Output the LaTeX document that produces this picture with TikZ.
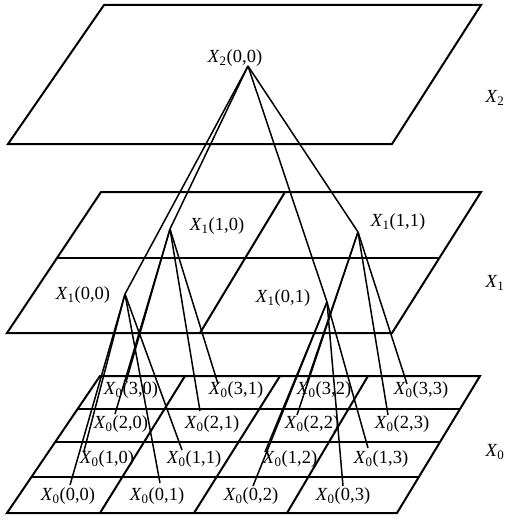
\documentclass[tikz,border=0pt]{standalone}
\usepackage{fontspec}
\setmainfont{Liberation Serif}
\newcommand{\myX}[2]{\textit{X}\textsubscript{#1}(#2)}
\begin{document}
\begin{tikzpicture}[x=1pt,y=-1pt,
  plane/.style={line width=2pt, line join=miter},
  conn/.style={line width=1.5pt},
  lab/.style={font=\fontsize{18.5}{20}\selectfont, inner sep=0pt}]
\useasboundingbox (0,0) rectangle (506,527);
% ---- planes ----
\draw[plane] (104,5) -- (481,5) -- (392,144) -- (8,144) -- cycle;
\draw[plane] (101,192) -- (481,192) -- (392,333) -- (7,333) -- cycle;
\draw[plane] (57,258) -- (439,258);
\draw[plane] (285,192) -- (200,333);
\draw[plane] (100,376) -- (480,376) -- (397,513) -- (7,513) -- cycle;
\draw[plane] (78,409) -- (460,409);
\draw[plane] (55,442) -- (440,442);
\draw[plane] (31,477) -- (419,477);
\draw[plane] (185,376) -- (100,513);
\draw[plane] (280,376) -- (194,513);
\draw[plane] (368,376) -- (287,513);
% ---- layer labels ----
\node[lab] (L2) at (495,98) {\textit{X}\textsubscript{2}};
\node[lab] (L1) at (495,283) {\textit{X}\textsubscript{1}};
\node[lab] (L0) at (495,452) {\textit{X}\textsubscript{0}};
% ---- level 2 ----
\node[lab] (x2) at (235,58) {\myX{2}{0,0}};
\coordinate (a2) at (248,66);
% ---- level 1 ----
\node[lab] (x100) at (83,295) {\myX{1}{0,0}};
\node[lab] (x110) at (217,226) {\myX{1}{1,0}};
\node[lab] (x101) at (283,298) {\myX{1}{0,1}};
\node[lab] (x111) at (398,222) {\myX{1}{1,1}};
\coordinate (a100) at (125,294);
\coordinate (a110) at (170,229);
\coordinate (a101) at (327,302);
\coordinate (a111) at (358,232);
% ---- level 0 ----
\node[lab] (x030) at (131,390) {\myX{0}{3,0}};
\node[lab] (x031) at (236,390) {\myX{0}{3,1}};
\node[lab] (x032) at (324,390) {\myX{0}{3,2}};
\node[lab] (x033) at (421,390) {\myX{0}{3,3}};
\node[lab] (x020) at (121,424) {\myX{0}{2,0}};
\node[lab] (x021) at (212,424) {\myX{0}{2,1}};
\node[lab] (x022) at (312,424) {\myX{0}{2,2}};
\node[lab] (x023) at (402,424) {\myX{0}{2,3}};
\node[lab] (x010) at (107,459) {\myX{0}{1,0}};
\node[lab] (x011) at (194,459) {\myX{0}{1,1}};
\node[lab] (x012) at (290,459) {\myX{0}{1,2}};
\node[lab] (x013) at (381,459) {\myX{0}{1,3}};
\node[lab] (x000) at (68,496) {\myX{0}{0,0}};
\node[lab] (x001) at (157,496) {\myX{0}{0,1}};
\node[lab] (x002) at (251,496) {\myX{0}{0,2}};
\node[lab] (x003) at (343,496) {\myX{0}{0,3}};
\coordinate (a030) at (126,382);
\coordinate (a031) at (218,384);
\coordinate (a032) at (307,382);
\coordinate (a033) at (407,384);
\coordinate (a020) at (115,414);
\coordinate (a021) at (200,411);
\coordinate (a022) at (297,415);
\coordinate (a023) at (388,415);
\coordinate (a010) at (84,451);
\coordinate (a011) at (182,450);
\coordinate (a012) at (265,452);
\coordinate (a013) at (368,448);
\coordinate (a000) at (70,485);
\coordinate (a001) at (160,483);
\coordinate (a002) at (253,486);
\coordinate (a003) at (343,486);
% ---- connectors ----
\foreach \c in {a100,a110,a101,a111} \draw[conn] (a2) -- (\c);
\foreach \c in {a000,a001,a010,a011} \draw[conn] (a100) -- (\c);
\foreach \c in {a020,a021,a030,a031} \draw[conn] (a110) -- (\c);
\foreach \c in {a002,a003,a012,a013} \draw[conn] (a101) -- (\c);
\foreach \c in {a022,a023,a032,a033} \draw[conn] (a111) -- (\c);
\end{tikzpicture}
\end{document}
